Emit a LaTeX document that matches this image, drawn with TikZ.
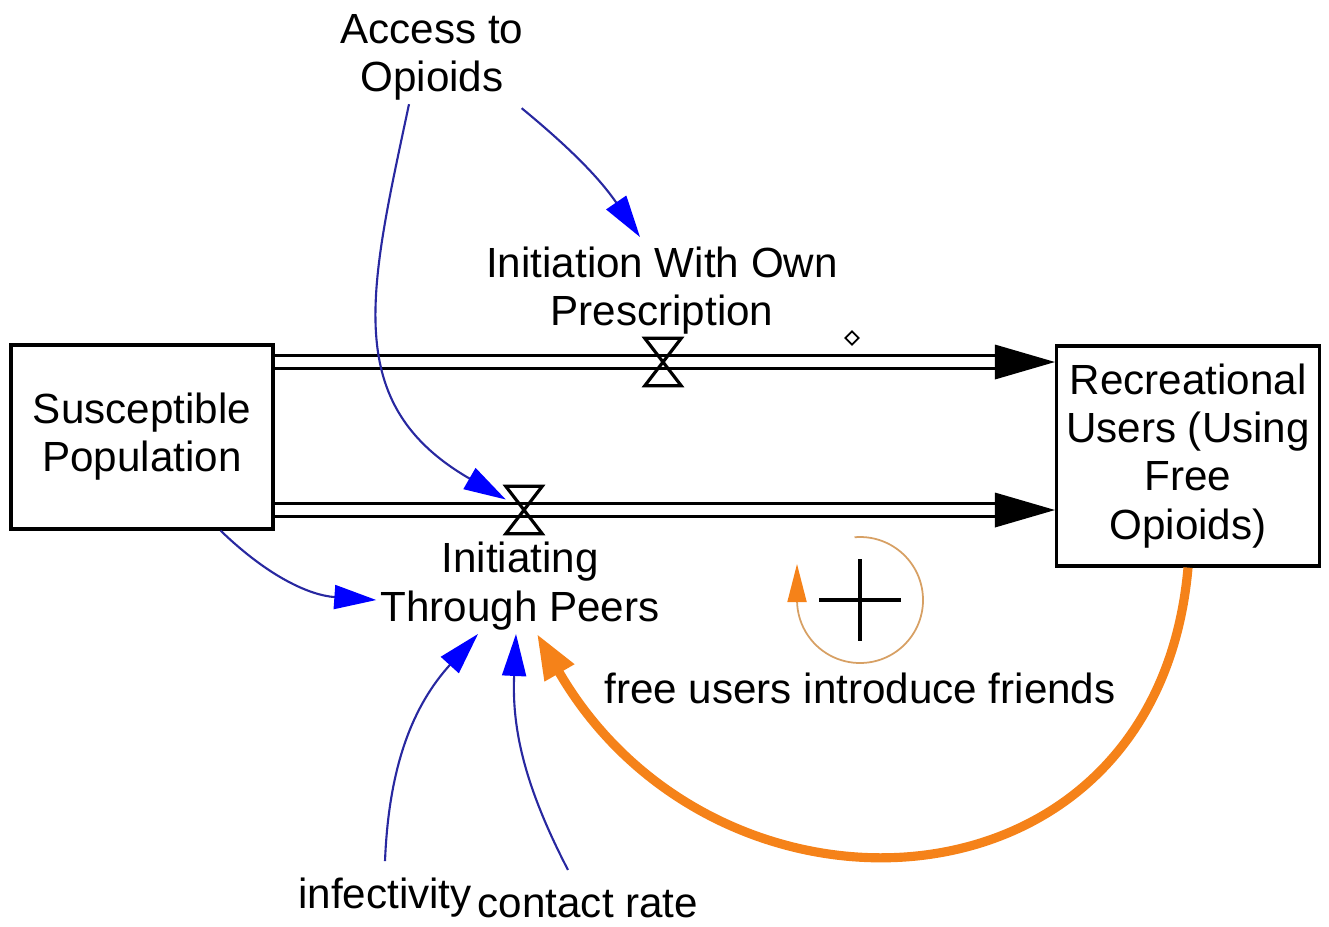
\documentclass[tikz,border=0pt]{standalone}
\usepackage{fontspec}
\setmainfont{Liberation Sans}
\usetikzlibrary{arrows.meta,shapes.geometric}
\definecolor{linkblue}{RGB}{40,40,160}
\definecolor{tipblue}{RGB}{0,0,255}
\definecolor{loopor}{RGB}{245,130,25}
\definecolor{looptan}{RGB}{215,160,100}

\begin{document}
\begin{tikzpicture}
		[every node/.style={font=\fontsize{12}{13.7}\selectfont,align=center,inner sep=1pt},
		stock/.style={draw,line width=0.9pt,minimum width=2.62cm,minimum height=1.84cm},
		valve/.style={minimum width=3.5mm,minimum height=4.6mm,inner sep=0},
		pipe/.style={line width=0.9pt,double distance=0.95mm},
		link/.style={linkblue,line width=0.6pt,-{Triangle[tipblue,length=4.2mm,width=2.4mm]}},
		loopline/.style={loopor,line width=2.6pt,-{Triangle[length=4.5mm,width=3.2mm]}}]
		\useasboundingbox (0,0) rectangle (13.29,-9.26);
		\node[stock] (sus) at (1.42,-4.37) {Susceptible\\Population};
		\node[stock,minimum width=2.63cm,minimum height=2.2cm] (rec) at (11.88,-4.56) {Recreational\\Users (Using\\Free\\Opioids)};
		\node[valve] (vtop) at (6.63,-3.62) {};
		\node[valve] (vbot) at (5.24,-5.10) {};
		\node[diamond,draw,inner sep=0,minimum size=1.4mm,line width=0.5pt] (mark) at (8.52,-3.38) {};
		\node (access) at (4.32,-0.57) {Access to\\Opioids};
		\node (own) at (6.62,-2.91) {Initiation With Own\\Prescription};
		\node (peers) at (5.20,-5.86) {Initiating\\Through Peers};
		\node (infect) at (3.85,-8.98) {infectivity};
		\node (contact) at (5.88,-9.04) {contact rate};
		\node (friends) at (8.60,-6.88) {free users introduce friends};
		\node[minimum size=8mm,inner sep=0] (loop) at (8.60,-6.00) {};
		
		\foreach \v in {vtop,vbot}{
			\draw[pipe] (sus.east |- \v) -- ([xshift=-5.8mm]rec.west |- \v);
			\fill (rec.west |- \v) -- ++(-6mm,1.75mm) -- ++(0,-3.5mm) -- cycle;
			\draw[line width=0.9pt] (\v.north west) -- (\v.north east) -- (\v.south west) -- (\v.south east) -- cycle;
		}
		
		\draw[link] ([xshift=-2.3mm]access.south) to[out=-102,in=150,looseness=1.2] (vbot);
		\draw[link] ([xshift=-0.6mm,yshift=-0.4mm]access.south east) to[bend left=8] ([xshift=-2.2mm,yshift=0.6mm]own.north);
		\draw[link] ([xshift=-5.4mm]sus.south east) to[bend right=20] ([yshift=-1.4mm]peers.west);
		\draw[link] ([yshift=1.3mm]infect.north) to[bend left=20] ([xshift=-4.2mm]peers.south);
		\draw[link] ([xshift=-2mm,yshift=1.6mm]contact.north) to[bend left=15] ([xshift=-0.4mm]peers.south);
		\draw[loopline] (rec.south) to[out=-95,in=-60,looseness=1.4] ([xshift=1.7mm]peers.south);
		
		\draw[looptan,line width=0.5pt,-{Triangle[loopor,length=3.8mm,width=1.9mm]}] ([shift={(95:6.3mm)}]loop.center) arc[start angle=95,end angle=-180,radius=6.3mm] -- ++(0,3.6mm);
		\draw[line width=1.1pt] (loop.north) -- (loop.south) (loop.west) -- (loop.east);
		\end{tikzpicture}
\end{document}
